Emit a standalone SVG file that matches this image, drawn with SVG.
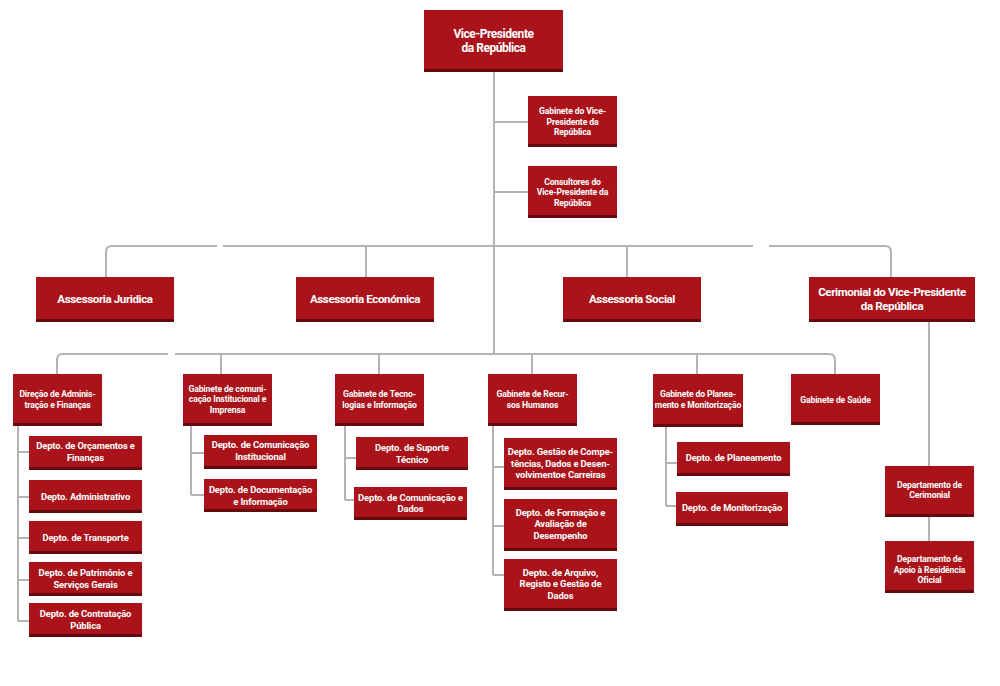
<svg xmlns="http://www.w3.org/2000/svg" width="1000" height="686" viewBox="0 0 1000 686">
<style>
.b{fill:#a91319}
.s{fill:#640a0d}
.c{fill:none;stroke:#b3b3b3;stroke-width:2}
text{font-family:Roboto,"Liberation Sans",sans-serif;font-weight:700;fill:#ffffff;text-anchor:middle}
.t1{font-size:12px;letter-spacing:-0.45px}
.t2{font-size:11.6px;letter-spacing:-0.4px}
.t3{font-size:8.6px;letter-spacing:-0.12px}
.t4{font-size:9.4px;letter-spacing:-0.12px}
</style>
<rect width="1000" height="686" fill="#ffffff"/>
<g id="connectors" class="c">
<path d="M494 72V354"/>
<path d="M494 122H528M494 192H528"/>
<path d="M106 277V252q0-6 6-6H217M223 246H753M769 246H885q6 0 6 6V277"/>
<path d="M366 246V277M627 246V277"/>
<path d="M57 374V360q0-6 6-6H168M175 354H829q6 0 6 6V374"/>
<path d="M221 354V374M379 354V374M532 354V374M697 354V374"/>
<path d="M929 322V466M929 517V541"/>
<path d="M18 426V621M18 452H29M18 497H29M18 538H29M18 580H29M18 621H29"/>
<path d="M191 426V495M191 453H204M191 495H204"/>
<path d="M345 426V500M345 458H356M345 500H354"/>
<path d="M493 426V575M493 467H504M493 526H504M493 575H504"/>
<path d="M666 427V506M666 463H677M666 506H676"/>
</g>
<g id="vp"><rect class="b" x="424" y="10" width="139" height="62"/><rect class="s" x="424" y="69" width="139" height="3"/><text class="t1" x="493.5" y="38">Vice-Presidente</text><text class="t1" x="493.5" y="52">da República</text></g>
<g id="gabinete-vp"><rect class="b" x="528" y="96" width="89" height="51"/><rect class="s" x="528" y="144" width="89" height="3"/><text class="t3" x="572.5" y="114">Gabinete do Vice-</text><text class="t3" x="572.5" y="124.5">Presidente da</text><text class="t3" x="572.5" y="135">República</text></g>
<g id="consultores"><rect class="b" x="528" y="166" width="89" height="52"/><rect class="s" x="528" y="215" width="89" height="3"/><text class="t3" x="572.5" y="184.5">Consultores do</text><text class="t3" x="572.5" y="195">Vice-Presidente da</text><text class="t3" x="572.5" y="205.5">República</text></g>
<g id="juridica"><rect class="b" x="36" y="277" width="138" height="45"/><rect class="s" x="36" y="319" width="138" height="3"/><text class="t2" x="105" y="302.5">Assessoria Juridica</text></g>
<g id="economica"><rect class="b" x="296" y="277" width="138" height="45"/><rect class="s" x="296" y="319" width="138" height="3"/><text class="t2" x="365" y="302.5">Assessoria Económica</text></g>
<g id="social"><rect class="b" x="563" y="277" width="138" height="45"/><rect class="s" x="563" y="319" width="138" height="3"/><text class="t2" x="632" y="302.5">Assessoria Social</text></g>
<g id="cerimonial"><rect class="b" x="809" y="277" width="166" height="45"/><rect class="s" x="809" y="319" width="166" height="3"/><text class="t2" x="892" y="296">Cerimonial do Vice-Presidente</text><text class="t2" x="892" y="309.5">da República</text></g>
<g id="direcao"><rect class="b" x="13" y="374" width="89" height="52"/><rect class="s" x="13" y="423" width="89" height="3"/><text class="t3" x="57.5" y="397">Direção de Adminis-</text><text class="t3" x="57.5" y="407.5">tração e Finanças</text></g>
<g id="comunicacao"><rect class="b" x="183" y="374" width="89" height="52"/><rect class="s" x="183" y="423" width="89" height="3"/><text class="t3" x="227.5" y="391.5">Gabinete de comuni-</text><text class="t3" x="227.5" y="402">cação Institucional e</text><text class="t3" x="227.5" y="412.5">Imprensa</text></g>
<g id="tecnologias"><rect class="b" x="335" y="374" width="89" height="52"/><rect class="s" x="335" y="423" width="89" height="3"/><text class="t3" x="379.5" y="397">Gabinete de Tecno-</text><text class="t3" x="379.5" y="407.5">logias e Informação</text></g>
<g id="recursos"><rect class="b" x="488" y="374" width="89" height="52"/><rect class="s" x="488" y="423" width="89" height="3"/><text class="t3" x="532.5" y="397">Gabinete de Recur-</text><text class="t3" x="532.5" y="407.5">sos Humanos</text></g>
<g id="planeamento"><rect class="b" x="653" y="374" width="90" height="53"/><rect class="s" x="653" y="424" width="90" height="3"/><text class="t3" x="698" y="397">Gabinete do Planea-</text><text class="t3" x="698" y="407.5">mento e Monitorização</text></g>
<g id="saude"><rect class="b" x="791" y="374" width="89" height="51"/><rect class="s" x="791" y="422" width="89" height="3"/><text class="t3" x="835.5" y="403">Gabinete de Saúde</text></g>
<g id="orcamentos"><rect class="b" x="29" y="436" width="113" height="34"/><rect class="s" x="29" y="467" width="113" height="3"/><text class="t4" x="85.5" y="449">Depto. de Orçamentos e</text><text class="t4" x="85.5" y="460.5">Finanças</text></g>
<g id="administrativo"><rect class="b" x="29" y="480" width="113" height="33"/><rect class="s" x="29" y="510" width="113" height="3"/><text class="t4" x="85.5" y="499.5">Depto. Administrativo</text></g>
<g id="transporte"><rect class="b" x="29" y="521" width="113" height="33"/><rect class="s" x="29" y="551" width="113" height="3"/><text class="t4" x="85.5" y="540.5">Depto. de Transporte</text></g>
<g id="patrimonio"><rect class="b" x="29" y="562" width="113" height="34"/><rect class="s" x="29" y="593" width="113" height="3"/><text class="t4" x="85.5" y="576">Depto. de Patrimônio e</text><text class="t4" x="85.5" y="587.5">Serviços Gerais</text></g>
<g id="contratacao"><rect class="b" x="29" y="603" width="113" height="34"/><rect class="s" x="29" y="634" width="113" height="3"/><text class="t4" x="85.5" y="617">Depto. de Contratação</text><text class="t4" x="85.5" y="628.5">Pública</text></g>
<g id="com-institucional"><rect class="b" x="204" y="435" width="113" height="34"/><rect class="s" x="204" y="466" width="113" height="3"/><text class="t4" x="260.5" y="448">Depto. de Comunicação</text><text class="t4" x="260.5" y="459.5">Institucional</text></g>
<g id="documentacao"><rect class="b" x="204" y="479" width="113" height="33"/><rect class="s" x="204" y="509" width="113" height="3"/><text class="t4" x="260.5" y="493">Depto. de Documentação</text><text class="t4" x="260.5" y="504.5">e Informação</text></g>
<g id="suporte"><rect class="b" x="356" y="437" width="112" height="33"/><rect class="s" x="356" y="467" width="112" height="3"/><text class="t4" x="412" y="451">Depto. de Suporte</text><text class="t4" x="412" y="462.5">Técnico</text></g>
<g id="com-dados"><rect class="b" x="354" y="487" width="113" height="33"/><rect class="s" x="354" y="517" width="113" height="3"/><text class="t4" x="410.5" y="500.5">Depto. de Comunicação e</text><text class="t4" x="410.5" y="512">Dados</text></g>
<g id="competencias"><rect class="b" x="504" y="438" width="113" height="52"/><rect class="s" x="504" y="487" width="113" height="3"/><text class="t4" x="560.5" y="455">Depto. Gestão de Compe-</text><text class="t4" x="560.5" y="466.5">tências, Dados e Desen-</text><text class="t4" x="560.5" y="478">volvimentoe Carreiras</text></g>
<g id="formacao"><rect class="b" x="504" y="499" width="113" height="52"/><rect class="s" x="504" y="548" width="113" height="3"/><text class="t4" x="560.5" y="515.5">Depto. de Formação e</text><text class="t4" x="560.5" y="527">Avaliação de</text><text class="t4" x="560.5" y="538.5">Desempenho</text></g>
<g id="arquivo"><rect class="b" x="504" y="559" width="113" height="52"/><rect class="s" x="504" y="608" width="113" height="3"/><text class="t4" x="560.5" y="575.5">Depto. de Arquivo,</text><text class="t4" x="560.5" y="587">Registo e Gestão de</text><text class="t4" x="560.5" y="598.5">Dados</text></g>
<g id="dep-planeamento"><rect class="b" x="677" y="442" width="113" height="34"/><rect class="s" x="677" y="473" width="113" height="3"/><text class="t4" x="733.5" y="461">Depto. de Planeamento</text></g>
<g id="monitorizacao"><rect class="b" x="676" y="492" width="112" height="34"/><rect class="s" x="676" y="523" width="112" height="3"/><text class="t4" x="732" y="511">Depto. de Monitorização</text></g>
<g id="dep-cerimonial"><rect class="b" x="885" y="466" width="89" height="51"/><rect class="s" x="885" y="514" width="89" height="3"/><text class="t3" x="929.5" y="487.5">Departamento de</text><text class="t3" x="929.5" y="498">Cerimonial</text></g>
<g id="apoio"><rect class="b" x="885" y="541" width="89" height="52"/><rect class="s" x="885" y="590" width="89" height="3"/><text class="t3" x="929.5" y="562">Departamento de</text><text class="t3" x="929.5" y="572.5">Apoio à Residência</text><text class="t3" x="929.5" y="583">Oficial</text></g>
</svg>
